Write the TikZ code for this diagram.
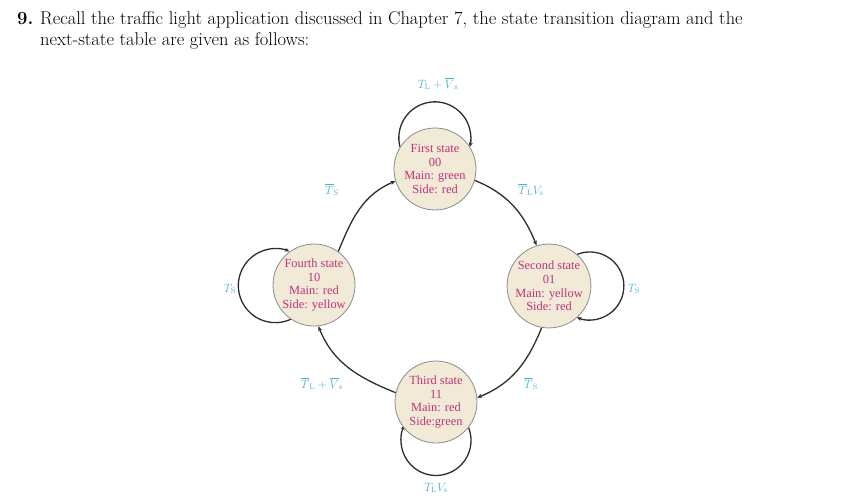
\documentclass[tikz,border=0pt]{standalone}
\usepackage{fontspec}
\newfontfamily\tnr{Liberation Serif}
\usetikzlibrary{arrows.meta}
\definecolor{statefill}{RGB}{240,234,214}
\definecolor{statetext}{RGB}{194,48,127}
\definecolor{stateborder}{RGB}{140,140,140}
\definecolor{labelcol}{RGB}{70,180,205}
\definecolor{edgecol}{RGB}{45,45,45}
\begin{document}
\begin{tikzpicture}[x=1pt,y=1pt,
  statenode/.style={circle,draw=stateborder,line width=0.8pt,fill=statefill,
    minimum size=82pt,inner sep=0pt,align=center,text=statetext,
    font=\tnr\fontsize{12.4}{13.7}\selectfont},
  ghost/.style={circle,minimum size=82pt,inner sep=0pt},
  trans/.style={draw=edgecol,line width=1.3pt,-{Stealth[length=5pt,width=4pt]}},
  lbl/.style={text=labelcol,font=\fontsize{12}{14}\selectfont,inner sep=1pt},
  titletext/.style={anchor=base west,inner sep=0pt,font=\fontsize{18.5}{21}\selectfont}]
\useasboundingbox (0,0) rectangle (857,499);
% title
\node[titletext] (num) at (17,474) {\textbf{9.}};
\node[titletext] (l1) at (40,474) {Recall the traffic light application discussed in Chapter 7, the state transition diagram and the};
\node[titletext] (l2) at (40,453) {next-state table are given as follows:};
% coordinates of states
\coordinate (cfirst) at (435,330);
\coordinate (cfourth) at (314,214);
\coordinate (csecond) at (549,213);
\coordinate (cthird) at (436,97);
% invisible state anchors for loops (drawn before fills)
\node[ghost] (first0) at (cfirst) {};
\node[ghost] (fourth0) at (cfourth) {};
\node[ghost] (second0) at (csecond) {};
\node[ghost] (third0) at (cthird) {};
% self loops
\draw[trans] (first0.148) arc[start angle=195,end angle=-15,radius=36];
\draw[trans] (fourth0.236) arc[start angle=295,end angle=67.5,radius=37];
\draw[trans] (second0.49.5) arc[start angle=114,end angle=-113,radius=34];
\draw[trans] (third0.-38.8) arc[start angle=22,end angle=-206,radius=35];
% states
\node[statenode] (first) at (cfirst) {First state\\00\\Main: green\\Side: red};
\node[statenode] (fourth) at (cfourth) {Fourth state\\10\\Main: red\\Side: yellow};
\node[statenode] (second) at (csecond) {Second state\\01\\Main: yellow\\Side: red};
\node[statenode] (third) at (cthird) {Third state\\11\\Main: red\\Side:green};
% transitions
\draw[trans] (fourth.54) to[out=68,in=203] (first.197);
\draw[trans] (first.-16) to[out=-22,in=112] (second.107);
\draw[trans] (second.260) to[out=248,in=22] (third.6);
\draw[trans] (third.167) to[out=158,in=292] (fourth.276);
% labels
\node[lbl] (lt) at (438,415) {$T_{\mathrm{L}}+\overline{V}_{\mathrm{s}}$};
\node[lbl] (l41) at (332,309) {$\overline{T}_{\mathrm{S}}$};
\node[lbl] (l12) at (531,309) {$\overline{T}_{\mathrm{L}}V_{\mathrm{s}}$};
\node[lbl] (l44) at (230,210) {$T_{\mathrm{S}}$};
\node[lbl] (l22) at (634,210) {$T_{\mathrm{S}}$};
\node[lbl] (l34) at (322,115) {$\overline{T}_{\mathrm{L}}+\overline{V}_{\mathrm{s}}$};
\node[lbl] (l23) at (531,115) {$\overline{T}_{\mathrm{S}}$};
\node[lbl] (l33) at (436,11) {$T_{\mathrm{L}}V_{\mathrm{s}}$};
\end{tikzpicture}
\end{document}
